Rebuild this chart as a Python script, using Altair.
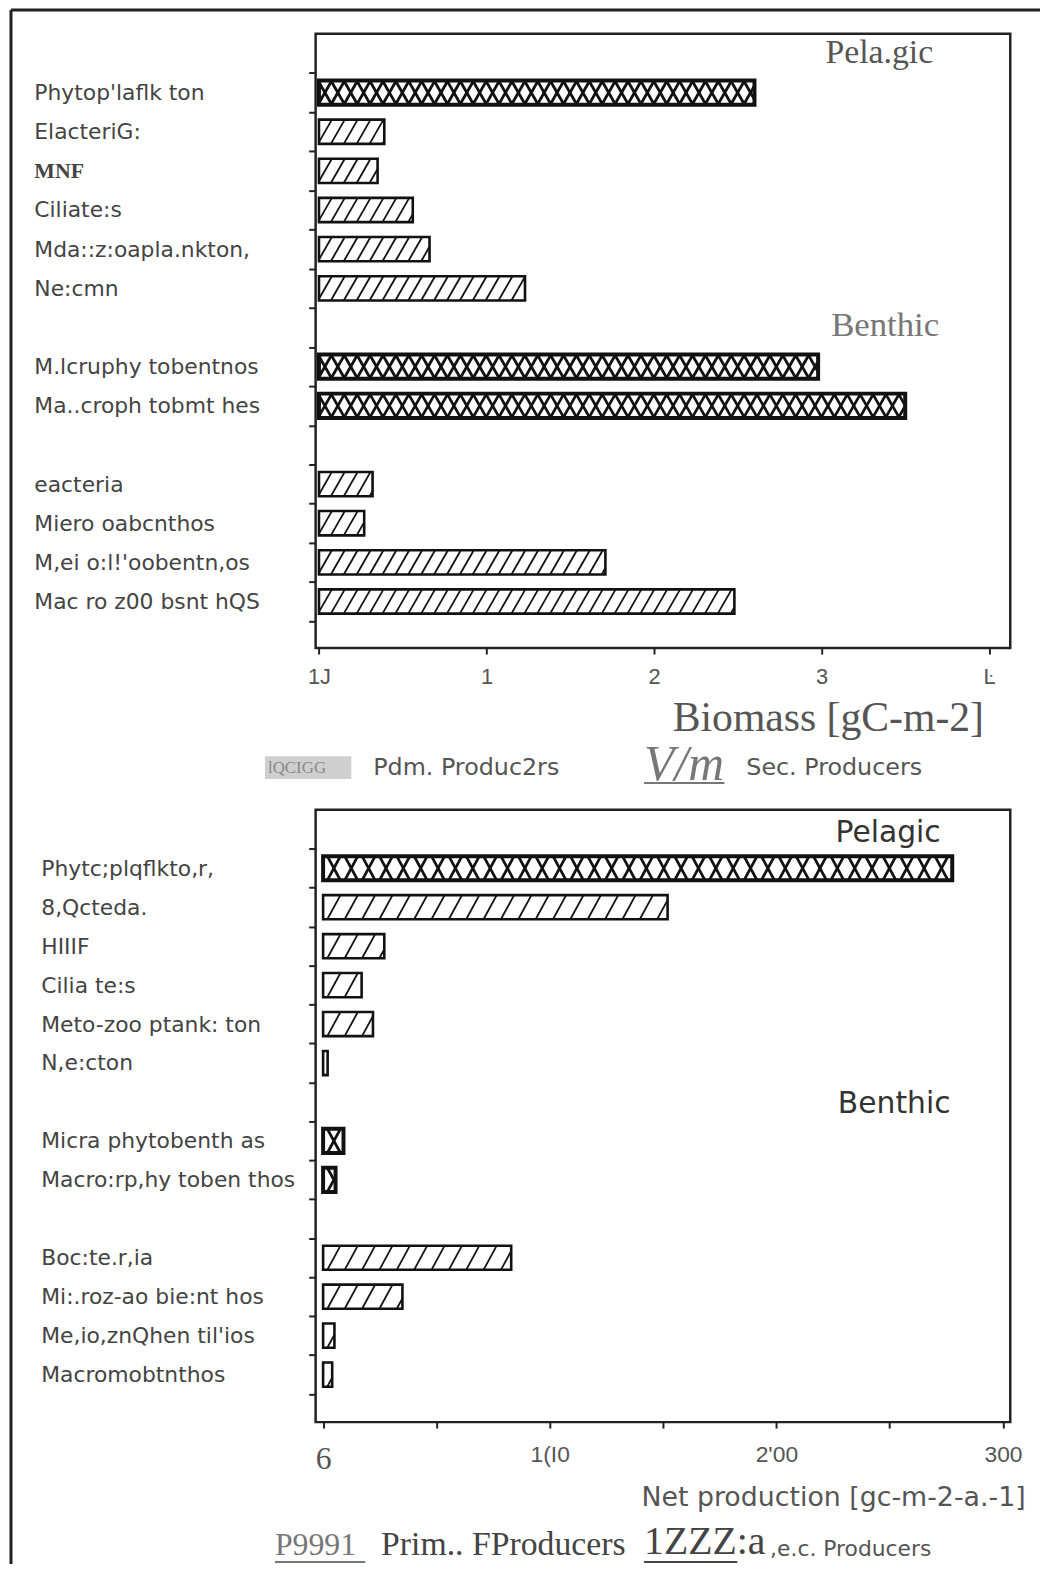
import json
import altair as alt
import pandas as pd

# ---------------- data ----------------
# "" marks an empty slot (group separator) on the category axis
top_categories = ["", "Phytop'laflk ton", "ElacteriG:", "MNF", "Ciliate:s",
                  "Mda::z:oapla.nkton,", "Ne:cmn", "",
                  "M.lcruphy tobentnos", "Ma..croph tobmt hes", "",
                  "eacteria", "Miero oabcnthos", "M,ei o:l!'oobentn,os",
                  "Mac ro z00 bsnt hQS"]
top_values = [None, 2.60, 0.39, 0.35, 0.56, 0.66, 1.23, None,
              2.98, 3.50, None, 0.32, 0.27, 1.71, 2.48]
kinds = [None, "prim", "sec", "sec", "sec", "sec", "sec", None,
         "prim", "prim", None, "sec", "sec", "sec", "sec"]

bottom_categories = ["", "Phytc;plqflkto,r,", "8,Qcteda.", "HIIIF", "Cilia te:s",
                     "Meto-zoo ptank: ton", "N,e:cton", "",
                     "Micra phytobenth as", "Macro:rp,hy toben thos", "",
                     "Boc:te.r,ia", "Mi:.roz-ao bie:nt hos", "Me,io,znQhen til'ios",
                     "Macromobtnthos"]
bottom_values = [None, 277.6, 152.0, 27.0, 17.0, 22.0, 2.0, None,
                 9.0, 5.5, None, 83.0, 35.0, 5.0, 4.0]

top_ticklabels = ["1J", "1", "2", "3", "Ŀ"]
bottom_ticklabels = ["6", "1(I0", "2'00", "300"]

FRAME = "#222222"


def make_df(cats, vals):
    rows = []
    for i, (c, v, k) in enumerate(zip(cats, vals, kinds)):
        if c:
            rows.append({"label": c, "pos": i + 0.5, "value": v, "kind": k})
    return pd.DataFrame(rows)


def bars(df, xs, ys, xaxis, yaxis, s, sp, hh=0.31):
    base = alt.Chart(df).transform_calculate(
        top=f"datum.pos - {hh}", bot=f"datum.pos + {hh}", zero="0")
    fill = base.mark_rect(fill="white").encode(
        x=alt.X("zero:Q", scale=xs, axis=xaxis),
        x2="value:Q",
        y=alt.Y("top:Q", scale=ys, axis=yaxis),
        y2="bot:Q",
    )
    hatch = alt.Chart(df).transform_calculate(
        h=f"sequence(-{s}, datum.value, {sp})",
        d="datum.kind == 'prim' ? [1, -1] : [1]",
    ).transform_flatten(["h"]).transform_flatten(["d"]).transform_calculate(
        xa="max(datum.h, 0)",
        xb=f"min(datum.h + {s}, datum.value)",
    ).transform_filter("datum.xb > datum.xa").transform_calculate(
        ya=f"datum.pos + datum.d*{hh} - datum.d*{2*hh}*(datum.xa - datum.h)/{s}",
        yb=f"datum.pos + datum.d*{hh} - datum.d*{2*hh}*(datum.xb - datum.h)/{s}",
    ).mark_rule(color="#111").encode(
        x="xa:Q", x2="xb:Q", y="ya:Q", y2="yb:Q",
        strokeWidth=alt.condition("datum.kind == 'prim'", alt.value(2.8), alt.value(1.8)),
    )
    outline = base.mark_rect(fill="white", fillOpacity=0, stroke="#111").encode(
        x="zero:Q", x2="value:Q", y="top:Q", y2="bot:Q",
        strokeWidth=alt.condition("datum.kind == 'prim'", alt.value(4), alt.value(2.6)),
    )
    return [fill, hatch, outline]


def yaxis(cats, label_padding, step, extra=None):
    # one value per slot (its centre); ticks are shifted half a slot up so they
    # sit on the slot boundaries, labels are shifted back to the centre
    n = len(cats)
    vals = [i + 0.5 for i in range(1, n + 1)]
    arr = json.dumps(cats + [""])
    kw = dict(
        values=vals,
        labelExpr=f"{arr}[floor(datum.value)]",
        tickOffset=-step / 2, labelOffset=step / 2,
        tickSize=7, tickWidth=2, tickColor=FRAME,
        labelAlign="left", labelPadding=label_padding, labelBaseline="middle",
        labelFontSize=22, labelColor="#444", labelFont="DejaVu Sans",
        labelOverlap=False, labelLimit=500, labelBound=False,
        domain=False, grid=False, title=None,
    )
    if extra:
        kw.update(extra)
    return alt.Axis(**kw)


def note(txt, x, y, **kw):
    return alt.Chart(pd.DataFrame({"t": [txt]})).mark_text(
        align="left", baseline="middle", **kw).encode(
        x=alt.value(x), y=alt.value(y), text="t:N")


def rule(x, x2, y, y2, **kw):
    return alt.Chart(pd.DataFrame({"a": [0]})).mark_rule(**kw).encode(
        x=alt.value(x), x2=alt.value(x2), y=alt.value(y), y2=alt.value(y2))


def group_text(txt, xv, pos, **kw):
    return alt.Chart(pd.DataFrame({"t": [txt], "x": [xv], "pos": [pos]})).mark_text(
        align="center", baseline="middle", **kw).encode(
        x="x:Q", y="pos:Q", text="t:N")


W = 700
H_TOP, YMAX_TOP = 619, 15.69
H_BOT, YMAX_BOT = 617, 15.72
SPACING = 163

# ---------------- top panel: biomass ----------------
dft = make_df(top_categories, top_values)
xs_t = alt.Scale(domain=[-0.02, 4.127], nice=False, zero=False)
ys_t = alt.Scale(domain=[0, YMAX_TOP], reverse=True, nice=False, zero=False)
tl = json.dumps(top_ticklabels)
xaxis_t = alt.Axis(
    values=[0, 1, 2, 3, 4], labelExpr=f"{tl}[round(datum.value)]",
    tickSize=6, tickWidth=2, tickColor=FRAME, domain=False, grid=False,
    labelFont="Liberation Sans", labelFontSize=22, labelColor="#555",
    labelPadding=13, labelFlush=False, labelOverlap=False,
    title="Biomass [gC-m-2]", titleFont="Liberation Serif", titleFontSize=42,
    titleFontWeight="normal", titleColor="#555", titleX=673, titleY=70,
    titleAlign="right", titleBaseline="middle", titleAnchor=None,
)
yaxis_t = yaxis(top_categories, 277, H_TOP / YMAX_TOP, {
    "labelFont": {"condition": {"test": "floor(datum.value) == 3", "value": "Liberation Serif"}, "value": "DejaVu Sans"},
    "labelFontWeight": {"condition": {"test": "floor(datum.value) == 3", "value": "bold"}, "value": "normal"},
})
top_layers = bars(dft, xs_t, ys_t, xaxis_t, yaxis_t, s=0.083, sp=0.077) + [
    group_text("Pela.gic", 3.345, 0.5, font="Liberation Serif", fontSize=34, color="#555"),
    group_text("Benthic", 3.38, 7.45, font="Liberation Serif", fontSize=35, color="#777"),
    # legend row (garbled in the source)
    alt.Chart(pd.DataFrame({"a": [0]})).mark_rect(fill="#cfcfcf").encode(
        x=alt.value(-51), x2=alt.value(36), y=alt.value(728), y2=alt.value(751)),
    note("lQCIGG", -48, 740, font="Liberation Serif", fontSize=17, color="#888"),
    note("Pdm. Produc2rs", 58, 740, font="DejaVu Sans", fontSize=24, color="#555"),
    note("V/m", 331, 737, font="Liberation Serif", fontStyle="italic", fontSize=50, color="#777"),
    rule(331, 412, 755, 755, color="#777", strokeWidth=2),
    note("Sec. Producers", 434, 740, font="DejaVu Sans", fontSize=24, color="#555"),
    # outer frame of the figure (left and top edges)
    rule(-307, 730, -24, -24, color=FRAME, strokeWidth=3),
    rule(-307, -307, -24, 1542, color=FRAME, strokeWidth=3),
]
top = alt.layer(*top_layers).properties(width=W, height=H_TOP)

# ---------------- bottom panel: net production ----------------
dfb = make_df(bottom_categories, bottom_values)
xs_b = alt.Scale(domain=[-3.3, 303.2], nice=False, zero=False)
ys_b = alt.Scale(domain=[0, YMAX_BOT], reverse=True, nice=False, zero=False)
bl = json.dumps(bottom_ticklabels)
xaxis_b = alt.Axis(
    values=[0, 50, 100, 150, 200, 250, 300],
    labelExpr=f"datum.value % 100 == 0 ? {bl}[round(datum.value / 100)] : ''",
    tickSize=6, tickWidth=2, tickColor=FRAME, domain=False, grid=False,
    labelFont={"condition": {"test": "datum.value == 0", "value": "Liberation Serif"}, "value": "Liberation Sans"},
    labelFontSize={"condition": {"test": "datum.value == 0", "value": 32}, "value": 23},
    labelColor="#555", labelPadding=16, labelFlush=False, labelOverlap=False,
    title="Net production [gc-m-2-a.-1]", titleFont="DejaVu Sans", titleFontSize=27,
    titleFontWeight="normal", titleColor="#555", titleX=715, titleY=76,
    titleAlign="right", titleBaseline="middle", titleAnchor=None,
)
yaxis_b = yaxis(bottom_categories, 270, H_BOT / YMAX_BOT)
bottom_layers = bars(dfb, xs_b, ys_b, xaxis_b, yaxis_b, s=5.8, sp=7.66) + [
    group_text("Pelagic", 249.3, 0.6, font="DejaVu Sans", fontSize=30, color="#333"),
    group_text("Benthic", 252, 7.55, font="DejaVu Sans", fontSize=30, color="#333"),
    note("P9991", -41, 741, font="Liberation Serif", fontSize=32, color="#777"),
    rule(-41, 50, 758, 758, color="#777", strokeWidth=2),
    note("Prim.. FProducers", 66, 741, font="Liberation Serif", fontSize=34, color="#444"),
    note("1ZZZ:a", 331, 738, font="Liberation Serif", fontSize=40, color="#444"),
    rule(331, 425, 758, 758, color="#444", strokeWidth=2),
    note(",e.c. Producers", 458, 745, font="DejaVu Sans", fontSize=22, color="#555"),
]
bottom = alt.layer(*bottom_layers).properties(width=W, height=H_BOT)

chart = alt.vconcat(top, bottom, spacing=SPACING, bounds="flush").properties(
    padding={"left": 0, "top": -7, "right": 0, "bottom": 0}
).configure_view(stroke=FRAME, strokeWidth=2.5)

chart.save("out.html", embed_options={"renderer": "svg", "actions": False})
